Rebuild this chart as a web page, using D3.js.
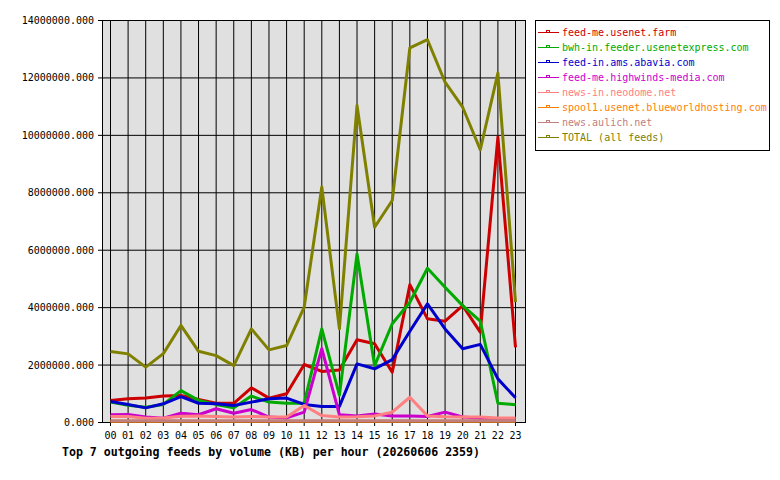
<!DOCTYPE html>
<html>
<head>
<meta charset="utf-8">
<script src="https://d3js.org/d3.v7.min.js"></script>
<style>
  body { margin: 0; background: #fff; }
  text { font-family: "DejaVu Sans Mono", monospace; font-size: 10px; }
</style>
</head>
<body>
<svg id="chart" width="780" height="480"></svg>
<script>
var hours = ["00","01","02","03","04","05","06","07","08","09","10","11",
             "12","13","14","15","16","17","18","19","20","21","22","23"];
var yTicks = [0, 2000000, 4000000, 6000000, 8000000, 10000000, 12000000, 14000000];

var feedNames = ["feed-me.usenet.farm", "bwh-in.feeder.usenetexpress.com", "feed-in.ams.abavia.com",
                 "feed-me.highwinds-media.com", "news-in.neodome.net", "spool1.usenet.blueworldhosting.com",
                 "news.aulich.net", "TOTAL (all feeds)"];
var feedColors = ["#cc0000", "#00aa00", "#0000cc", "#cc00cc", "#ff8080", "#ff8000", "#c08080", "#808000"];

// values in KB, one per hour
var usenetFarm = [770000, 830000, 850000, 920000, 940000, 800000, 670000, 670000, 1210000, 850000, 1000000, 2020000,
                  1780000, 1830000, 2880000, 2740000, 1750000, 4800000, 3610000, 3530000, 4070000, 3150000, 9940000, 2620000];
var usenetExpress = [710000, 600000, 530000, 630000, 1110000, 770000, 630000, 510000, 920000, 710000, 670000, 670000,
                     3260000, 950000, 5870000, 1980000, 3440000, 4190000, 5370000, 4710000, 4070000, 3530000, 670000, 620000];
var abavia = [730000, 630000, 510000, 650000, 900000, 670000, 650000, 590000, 710000, 830000, 850000, 630000,
              560000, 560000, 2040000, 1870000, 2190000, 3180000, 4130000, 3260000, 2570000, 2720000, 1520000, 860000];
var highwinds = [270000, 280000, 190000, 150000, 320000, 270000, 480000, 320000, 450000, 190000, 160000, 360000,
                 2570000, 270000, 230000, 300000, 230000, 230000, 210000, 360000, 190000, 150000, 140000, 140000];
var neodome = [210000, 210000, 150000, 160000, 220000, 230000, 210000, 190000, 210000, 190000, 190000, 590000,
               240000, 190000, 200000, 230000, 360000, 880000, 230000, 200000, 190000, 190000, 160000, 160000];
var blueworld = [40000, 40000, 40000, 40000, 40000, 40000, 40000, 40000, 40000, 40000, 40000, 40000,
                 40000, 40000, 40000, 40000, 40000, 40000, 40000, 40000, 40000, 40000, 40000, 40000];
var aulich = [60000, 60000, 60000, 60000, 60000, 60000, 60000, 60000, 60000, 60000, 60000, 60000,
              60000, 60000, 60000, 60000, 60000, 60000, 60000, 60000, 60000, 60000, 60000, 60000];
var total = [2470000, 2390000, 1930000, 2400000, 3380000, 2480000, 2330000, 1980000, 3260000, 2530000, 2680000, 4020000,
             8200000, 3260000, 11040000, 6800000, 7730000, 13050000, 13330000, 11850000, 10980000, 9500000, 12170000, 4190000];

var series = [usenetFarm, usenetExpress, abavia, highwinds, neodome, blueworld, aulich, total];

var svg = d3.select("#chart");
var plotLeft = 102, plotRight = 525, plotTop = 20, plotBottom = 422;

var x = d3.scaleLinear().domain([0, 23]).range([110.5, 515.5]);
var y = d3.scaleLinear().domain([0, 14000000]).range([plotBottom + 0.5, plotTop + 0.5]);

// plot background
svg.append("rect")
  .attr("x", plotLeft).attr("y", plotTop)
  .attr("width", plotRight - plotLeft).attr("height", plotBottom - plotTop)
  .attr("fill", "#e0e0e0");

// grid
svg.append("g").selectAll("line").data(hours).enter().append("line")
  .attr("x1", (d, i) => x(i)).attr("x2", (d, i) => x(i))
  .attr("y1", plotTop).attr("y2", plotBottom + 4)
  .attr("stroke", "#000").attr("stroke-width", 1);

svg.append("g").selectAll("line").data(yTicks).enter().append("line")
  .attr("x1", plotLeft - 4).attr("x2", plotRight)
  .attr("y1", d => y(d)).attr("y2", d => y(d))
  .attr("stroke", "#000").attr("stroke-width", 1);

// frame
svg.append("rect")
  .attr("x", plotLeft + 0.5).attr("y", plotTop + 0.5)
  .attr("width", plotRight - plotLeft).attr("height", plotBottom - plotTop)
  .attr("fill", "none").attr("stroke", "#000");

// lines
var line = d3.line()
  .x((d, i) => x(i))
  .y(d => y(d));

svg.append("g").selectAll("path").data(series).enter().append("path")
  .attr("d", d => line(d))
  .attr("fill", "none")
  .attr("stroke", (d, i) => feedColors[i])
  .attr("stroke-width", 3)
  .attr("stroke-linejoin", "round");

// y labels
svg.append("g").selectAll("text").data(yTicks).enter().append("text")
  .attr("x", 94).attr("y", d => y(d)).attr("dy", "0.35em")
  .attr("text-anchor", "end")
  .text(d => d3.format(".3f")(d));

// x labels
svg.append("g").selectAll("text").data(hours).enter().append("text")
  .attr("x", (d, i) => x(i)).attr("y", 439)
  .attr("text-anchor", "middle")
  .text(d => d);

// title
svg.append("text")
  .attr("x", 62).attr("y", 456)
  .style("font-size", "11.6px").style("font-weight", "bold")
  .attr("textLength", 418)
  .text("Top 7 outgoing feeds by volume (KB) per hour (20260606 2359)");

// legend
var legend = svg.append("g");
legend.append("rect")
  .attr("x", 535.5).attr("y", 20.5).attr("width", 234).attr("height", 130)
  .attr("fill", "#fff").attr("stroke", "#000");

var item = legend.selectAll("g").data(feedNames).enter().append("g")
  .attr("transform", (d, i) => "translate(0," + (32 + i * 15) + ")");
item.append("line")
  .attr("x1", 538).attr("x2", 559).attr("y1", 0.5).attr("y2", 0.5)
  .attr("stroke", (d, i) => feedColors[i]);
item.append("rect")
  .attr("x", 546.5).attr("y", -1.5).attr("width", 3).attr("height", 2)
  .attr("fill", "none")
  .attr("stroke", (d, i) => feedColors[i]);
item.append("text")
  .attr("x", 562).attr("y", 0).attr("dy", "0.35em")
  .attr("fill", (d, i) => feedColors[i])
  .text(d => d);
</script>
</body>
</html>
